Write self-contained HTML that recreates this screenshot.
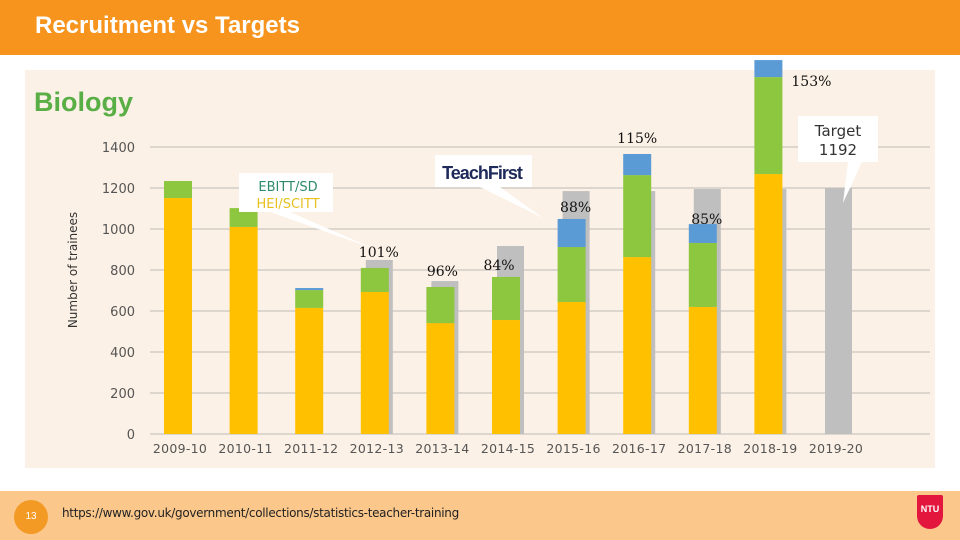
<!DOCTYPE html>
<html><head><meta charset="utf-8"><style>
body{margin:0;width:960px;height:540px;overflow:hidden;background:#fff;font-family:"Liberation Sans",sans-serif;position:relative}
#hdr{position:absolute;left:0;top:0;width:960px;height:55px;background:#f7941d}
#ttl{position:absolute;left:35px;top:12px;color:#fff;font-weight:bold;font-size:24px}
#panel{position:absolute;left:25px;top:70px;width:910px;height:398px;background:#fcf1e6}
#ftr{position:absolute;left:0;top:491px;width:960px;height:49px;background:#fbc78b}
#pg{position:absolute;left:14px;top:500px;width:34px;height:34px;border-radius:50%;background:#f39a25;color:#fff;font-size:10px;text-align:center;line-height:34px}
#url{position:absolute;left:62px;top:506px;font-size:12px;color:#222;font-family:"DejaVu Sans",sans-serif;letter-spacing:-0.3px}
#ntu{position:absolute;left:917px;top:495px;width:26px;height:34px;background:#e3173e;border-radius:2px 2px 13px 13px;color:#fff;font-size:9px;font-weight:bold;text-align:center;line-height:28px}
svg{position:absolute;left:0;top:0}
</style></head><body>
<div id="hdr"></div>
<div id="ttl">Recruitment vs Targets</div>
<div id="panel"></div>
<div id="ftr"></div>
<div id="pg">13</div>
<div id="url">https://www.gov.uk/government/collections/statistics-teacher-training</div>
<div id="ntu">NTU</div>
<svg id="chart" width="960" height="540"></svg>
<script>
const categories=["2009-10","2010-11","2011-12","2012-13","2013-14","2014-15","2015-16","2016-17","2017-18","2018-19","2019-20"];
const heiScitt=[1151,1010,615,693,541,556,644,863,620,1268,0];
const ebittSd=[83,92,87,117,176,210,268,400,312,473,0];
const teachFirst=[0,0,10,0,0,0,137,103,92,83,0];
const targets=[0,0,0,849,746,917,1185,1185,1195,1195,1200];
const pctLabels=["","","","101%","96%","84%","88%","115%","85%","153%",""];
const yTicks=[0,200,400,600,800,1000,1200,1400];
const NS="http://www.w3.org/2000/svg";
const svg=document.getElementById('chart');
const y0=434,pxPer=287/1400;
function yS(v){return y0-v*pxPer;}
function xS(i){return 164+i*65.6;}
const BW=28;
function el(t,a,p){const e=document.createElementNS(NS,t);for(const k in a)e.setAttribute(k,a[k]);(p||svg).appendChild(e);return e;}
yTicks.forEach(v=>{
 const g=el('line',{x1:150,x2:930,y1:yS(v),y2:yS(v),stroke:'#dcd6cf','stroke-width':2});
 
 
 const t=el('text',{x:135,y:yS(v)+5,'text-anchor':'end','font-size':13,fill:'#555','font-family':'DejaVu Sans, sans-serif'});
 t.textContent=v;
 
 
});
const yt=el('text',{x:0,y:0,transform:'translate(77,270) rotate(-90)','text-anchor':'middle','font-size':12,fill:'#333','font-family':'DejaVu Sans, sans-serif'});
yt.textContent='Number of trainees';


categories.forEach((c,i)=>{
 const x=xS(i);
 if(targets[i]>0){
  const r=el('rect',{x:x+5,y:yS(targets[i]),width:BW-1,height:y0-yS(targets[i]),fill:'#bfbfbf'});
  
  
 }
 let base=0;
 [[heiScitt,'#ffc000','hei-scitt-bar'],[ebittSd,'#8dc63f','ebitt-sd-bar'],[teachFirst,'#5b9bd5','teach-first-bar']].forEach(([arr,col,nm])=>{
  const v=arr[i]; if(v<=0)return;
  const r=el('rect',{x:x,y:yS(base+v),width:BW,height:v*pxPer,fill:col});
  
  
  base+=v;
 });
 const t=el('text',{x:x+16,y:453,'text-anchor':'middle','font-size':12.5,fill:'#555','font-family':'DejaVu Sans, sans-serif','letter-spacing':'0.3'});
 t.textContent=c;
 
 
 if(pctLabels[i]){
  const tot=heiScitt[i]+ebittSd[i]+teachFirst[i];
  let ly=Math.min(yS(tot),yS(targets[i]))-3, lx=x+18;
  if(i==9){lx=x+57;ly=yS(tot)+26;}
  if(i==6){lx=x+18;ly=yS(tot)-7;}
  if(i==7){lx=x+14;ly=yS(tot)-11;}
  if(i==8){lx=x+18;ly=yS(tot)+0;}
  if(i==5){lx=x+7;ly=yS(targets[i])+24;}
  if(i==4){lx=x+16;ly=yS(tot)-11;}
  const p=el('text',{x:lx,y:ly,'text-anchor':'middle','font-size':14,fill:'#111','font-family':'DejaVu Serif, serif'});
  p.textContent=pctLabels[i];
  
  
 }
});
const bio=el('text',{x:34,y:111,'font-size':27,'font-weight':'bold',fill:'#5aae46','font-family':'Liberation Sans, sans-serif'});
bio.textContent='Biology';


const c1=el('path',{d:'M239 173 H333 V212 H290 L372 248 L270 212 H239 Z',fill:'#fff'});


const l1=el('text',{x:288,y:191,'text-anchor':'middle','font-size':13,fill:'#2e8b6a','font-family':'DejaVu Sans, sans-serif'});
l1.textContent='EBITT/SD';


const l2=el('text',{x:288,y:208,'text-anchor':'middle','font-size':13,fill:'#e8c020','font-family':'DejaVu Sans, sans-serif'});
l2.textContent='HEI/SCITT';


const c2=el('path',{d:'M435 155 H532 V187 H500 L543 218 L480 187 H435 Z',fill:'#fff'});


const l3=el('text',{x:482,y:179,'text-anchor':'middle','font-size':18,'font-weight':'bold',fill:'#1d2a5a','font-family':'Liberation Sans, sans-serif','letter-spacing':'-1'});
l3.textContent='TeachFirst';


const c3=el('path',{d:'M798 116 H878 V162 H862 L843 203 L848 162 H798 Z',fill:'#fff'});


const l4=el('text',{x:838,y:136,'text-anchor':'middle','font-size':15,fill:'#333','font-family':'DejaVu Sans, sans-serif'});
l4.textContent='Target';


const l5=el('text',{x:838,y:155,'text-anchor':'middle','font-size':15,fill:'#333','font-family':'DejaVu Sans, sans-serif'});
l5.textContent='1192';


</script>
</body></html>
